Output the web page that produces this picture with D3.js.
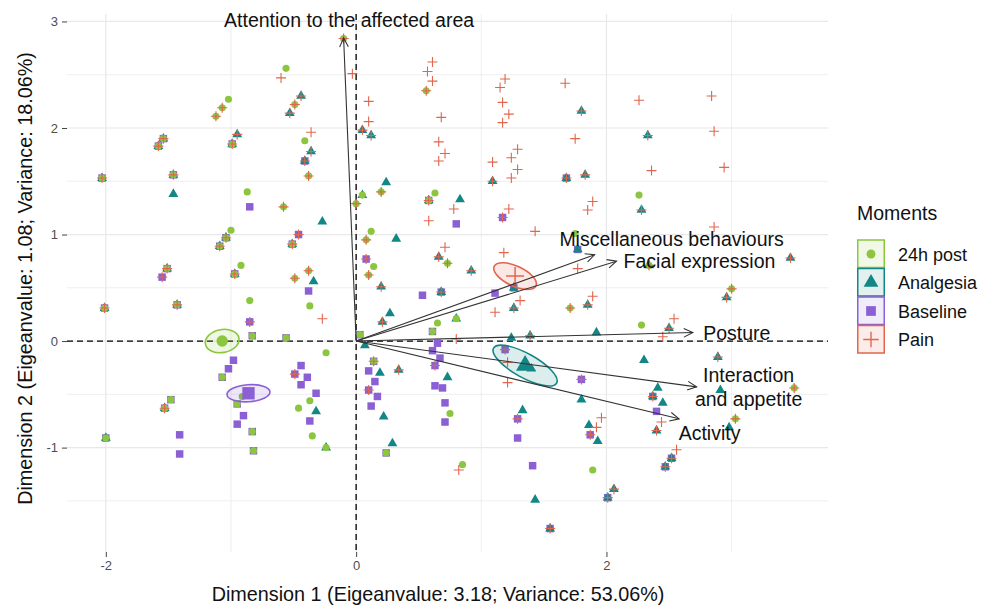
<!DOCTYPE html>
<html><head><meta charset="utf-8">
<script src="https://cdn.jsdelivr.net/npm/d3@7"></script>
<style>
body{margin:0;background:#fff;}
text{font-family:"Liberation Sans",Arial,sans-serif;}
</style>
</head><body>
<svg id="chart" width="990" height="608"></svg>
<script>
// ---------------- DATA ----------------
const groups = ["24h post", "Analgesia", "Baseline", "Pain"];
const groupColors = ["#8cc63f", "#138785", "#8a60d4", "#e2654d"];
const xTicks = [-2, 0, 2];
const yTicks = [-1, 0, 1, 2, 3];
const xTitle = "Dimension 1 (Eigeanvalue: 3.18; Variance: 53.06%)";
const yTitle = "Dimension 2 (Eigeanvalue: 1.08; Variance: 18.06%)";
const legendTitle = "Moments";

const post24Points = [
[-2.03,1.53],[-1.58,1.83],[-1.54,1.90],[-1.46,1.56],[-1.12,2.11],[-1.07,2.19],[-1.02,2.27],[-0.99,1.85],
[-0.87,1.40],[-0.58,1.26],[-0.56,2.56],[-0.49,2.22],[-0.41,1.88],[-0.38,1.55],[-0.51,0.91],[-1.00,1.04],
[-1.04,0.97],[-1.09,0.89],[-1.51,0.68],[-0.92,0.71],[-0.97,0.63],[-0.38,0.66],[-0.49,0.59],[-0.85,0.38],
[-0.10,2.84],[-2.01,0.31],[-1.43,0.34],[-0.37,0.33],[-0.83,0.05],[-0.56,0.03],[-0.24,-0.11],[-1.07,-0.34],
[-0.91,-0.52],[-0.37,-0.56],[-0.46,-0.63],[-0.35,-0.89],[-0.24,-1.00],[-1.48,-0.55],[-1.53,-0.63],[-0.95,-0.59],
[-0.83,-0.85],[-0.82,-1.03],[-2.00,-0.91],[0.05,1.37],[0.20,1.40],[0.00,1.29],[0.12,1.03],[0.08,0.95],
[0.14,0.70],[0.10,0.62],[0.56,2.35],[0.63,1.39],[0.58,1.32],[0.73,0.73],[1.75,1.01],[1.71,0.31],
[2.26,1.37],[2.34,0.71],[3.00,0.49],[0.03,0.06],[0.14,-0.19],[0.24,-1.05],[0.65,0.17],[0.80,0.21],
[0.61,0.09],[0.75,-0.68],[0.85,-1.16],[1.89,-1.21],[2.28,0.15],[3.50,-0.44],[3.03,-0.73]
];
const analgesiaPoints = [
[-2.03,1.53],[-1.58,1.83],[-1.54,1.90],[-1.46,1.56],[-1.46,1.38],[-0.99,1.85],[-0.95,1.94],[-0.53,2.14],
[-0.44,2.30],[-0.36,1.78],[-0.41,1.69],[-0.27,1.12],[-0.51,0.91],[-1.04,0.97],[-1.09,0.89],[-1.51,0.68],
[-0.97,0.63],[-0.34,0.56],[-2.01,0.31],[-1.43,0.34],[-0.32,-0.66],[-0.24,-1.00],[-1.53,-0.63],[-2.00,-0.91],
[0.05,1.98],[0.12,1.93],[0.24,1.49],[0.05,1.37],[0.32,0.96],[0.20,0.51],[0.58,1.32],[0.83,1.33],
[0.66,0.79],[0.92,0.66],[0.68,0.46],[1.09,1.50],[1.26,0.50],[1.80,2.16],[1.68,1.53],[1.83,1.56],
[1.77,0.86],[1.85,0.34],[2.33,1.93],[2.28,1.23],[2.34,0.71],[2.96,0.41],[3.47,0.78],[0.07,-0.04],
[0.21,0.18],[0.27,0.26],[0.19,-0.30],[0.22,-0.71],[0.29,-0.96],[0.34,-0.27],[0.80,0.21],[0.73,-0.34],
[1.26,0.31],[1.24,0.03],[1.39,0.05],[1.40,-0.26],[1.33,-0.65],[1.43,-1.49],[1.55,-1.76],[1.92,0.08],
[1.80,-0.55],[1.86,-0.79],[1.93,-0.94],[2.01,-1.47],[2.06,-1.39],[2.30,-0.18],[2.41,-0.44],[2.37,-0.52],
[2.45,-0.58],[2.40,-0.84],[2.50,0.12],[2.89,-0.15],[2.91,-0.46],[2.98,-0.81],[2.52,-1.10],[2.47,-1.18]
];
const baselinePoints = [
[-2.03,1.53],[-1.58,1.83],[-1.54,1.90],[-1.46,1.56],[-0.99,1.85],[-0.85,1.26],[-0.41,1.69],[-0.46,1.00],
[-0.51,0.91],[-1.04,0.97],[-1.09,0.89],[-1.51,0.68],[-1.55,0.60],[-0.97,0.63],[-0.38,0.47],[-2.01,0.31],
[-1.43,0.34],[-0.85,0.18],[-0.83,0.05],[-0.56,0.03],[-0.98,-0.18],[-1.02,-0.26],[-1.07,-0.34],[-0.49,-0.31],
[-0.44,-0.23],[-0.39,-0.34],[-0.44,-0.41],[-0.32,-0.49],[-0.37,-0.75],[-1.48,-0.55],[-1.53,-0.63],[-0.95,-0.59],
[-0.90,-0.70],[-0.95,-0.78],[-0.83,-0.85],[-0.82,-1.03],[-1.41,-0.88],[-1.41,-1.06],[-2.00,-0.91],[0.08,0.77],
[0.58,1.32],[0.80,1.10],[0.68,0.46],[0.53,0.43],[1.17,1.16],[1.26,0.50],[1.11,0.45],[1.68,1.53],
[1.77,0.86],[0.03,0.06],[0.14,-0.19],[0.10,-0.28],[0.15,-0.38],[0.10,-0.46],[0.17,-0.52],[0.12,-0.61],
[0.24,-1.05],[0.61,0.09],[0.65,-0.02],[0.61,-0.09],[0.67,-0.16],[0.63,-0.23],[0.63,-0.42],[0.69,-0.44],
[0.71,-0.58],[0.71,-0.76],[1.19,-0.08],[1.29,-0.73],[1.29,-0.91],[1.41,-1.17],[1.55,-1.76],[1.80,-0.36],
[1.87,-0.88],[2.01,-1.47],[2.37,-0.52],[2.40,-0.66],[2.52,-1.10],[2.47,-1.18]
];
const painPoints = [
[-2.03,1.53],[-1.58,1.83],[-1.54,1.90],[-1.46,1.56],[-1.12,2.11],[-1.07,2.19],[-0.99,1.85],[-0.95,1.94],
[-0.58,1.26],[-0.60,2.47],[-0.53,2.14],[-0.49,2.22],[-0.44,2.30],[-0.36,1.96],[-0.36,1.78],[-0.41,1.69],
[-0.38,1.55],[-0.46,1.00],[-0.51,0.91],[-1.04,0.97],[-1.09,0.89],[-1.51,0.68],[-1.55,0.60],[-0.97,0.63],
[-0.38,0.66],[-0.49,0.59],[-0.10,2.84],[-0.03,2.51],[-2.01,0.31],[-1.43,0.34],[-0.85,0.18],[-0.27,0.21],
[-0.49,-0.31],[-1.53,-0.63],[0.10,2.25],[0.10,2.06],[0.05,1.98],[0.12,1.93],[0.20,1.40],[0.00,1.29],
[0.08,0.95],[0.08,0.77],[0.10,0.62],[0.20,0.51],[0.61,2.62],[0.57,2.53],[0.61,2.44],[0.56,2.35],
[0.68,2.10],[0.66,1.87],[0.71,1.76],[0.66,1.69],[0.58,1.32],[0.58,1.13],[0.78,1.24],[0.71,0.88],
[0.66,0.79],[0.73,0.73],[0.92,0.66],[0.68,0.46],[1.19,2.46],[1.15,2.38],[1.17,2.24],[1.22,2.13],
[1.17,2.05],[1.29,1.80],[1.24,1.72],[1.09,1.68],[1.29,1.61],[1.24,1.53],[1.09,1.50],[1.22,1.24],
[1.17,1.16],[1.43,1.03],[1.18,0.83],[1.67,2.42],[1.80,2.16],[1.75,1.90],[1.68,1.53],[1.83,1.56],
[1.89,1.31],[1.85,1.23],[1.77,0.68],[1.89,0.42],[1.71,0.31],[1.85,0.34],[2.26,2.26],[2.33,1.93],
[2.36,1.60],[2.28,1.23],[2.34,0.71],[2.54,0.21],[2.84,2.30],[2.86,1.97],[2.94,1.63],[2.86,1.07],
[3.00,0.49],[2.96,0.41],[3.47,0.78],[0.21,0.18],[0.14,-0.19],[0.10,-0.46],[0.34,-0.27],[0.80,0.02],
[0.63,-0.23],[0.82,-1.21],[1.11,0.27],[1.26,0.31],[1.31,0.38],[1.39,0.05],[1.19,-0.08],[1.21,-0.20],
[1.21,-0.39],[1.29,-0.73],[1.55,-1.76],[1.80,-0.36],[1.87,-0.88],[1.96,-0.72],[1.92,-0.81],[2.01,-1.47],
[2.06,-1.39],[2.37,-0.52],[2.44,-0.76],[2.40,-0.84],[2.50,0.12],[2.45,0.04],[2.89,-0.15],[3.50,-0.44],
[3.03,-0.73],[2.56,-1.02],[2.52,-1.10],[2.47,-1.18]
];

// group means (x, y)
const groupMeans = [[-1.07, 0.00], [1.35, -0.23], [-0.86, -0.49], [1.27, 0.61]];
// confidence ellipse: semi-axis along x (dim1 units), semi-axis along y (dim2 units), tilt (deg)
const ellipseAxes = [[0.136, 0.108, -10], [0.288, 0.113, 29], [0.172, 0.080, -4], [0.184, 0.094, 25]];

// variable arrows
const variableNames = ["Attention to the affected area", "Miscellaneous behaviours", "Facial expression",
                       "Posture", "Interaction\nand appetite", "Activity"];
const variableX = [-0.10, 1.905, 2.08, 2.69, 2.72, 2.58];
const variableY = [2.845, 0.81, 0.75, 0.08, -0.43, -0.73];

// ---------------- LAYOUT ----------------
const svg = d3.select("#chart");
const P = {left: 67, right: 828, top: 14, bottom: 552};
const x = d3.scaleLinear().domain([-2.31, 3.77]).range([P.left, P.right]);
const y = d3.scaleLinear().domain([-1.98, 3.07]).range([P.bottom, P.top]);

// grid
const grid = svg.append("g");
const xMinor = [-1, 1, 3];
const yMinor = [-1.5, -0.5, 0.5, 1.5, 2.5];
grid.selectAll(".gxm").data(xMinor).join("line")
  .attr("x1", d => x(d)).attr("x2", d => x(d)).attr("y1", P.top).attr("y2", P.bottom)
  .attr("stroke", "#ececec").attr("stroke-width", 0.9);
grid.selectAll(".gym").data(yMinor).join("line")
  .attr("y1", d => y(d)).attr("y2", d => y(d)).attr("x1", P.left).attr("x2", P.right)
  .attr("stroke", "#ececec").attr("stroke-width", 0.9);
grid.selectAll(".gx").data(xTicks).join("line")
  .attr("x1", d => x(d)).attr("x2", d => x(d)).attr("y1", P.top).attr("y2", P.bottom)
  .attr("stroke", "#e8e8e8").attr("stroke-width", 1.2);
grid.selectAll(".gy").data(yTicks).join("line")
  .attr("y1", d => y(d)).attr("y2", d => y(d)).attr("x1", P.left).attr("x2", P.right)
  .attr("stroke", "#e8e8e8").attr("stroke-width", 1.2);

// axes
const fmt = d => String(d);
const gx = svg.append("g").attr("transform", `translate(0,${P.bottom})`)
  .call(d3.axisBottom(x).tickValues(xTicks).tickFormat(fmt).tickSize(5).tickPadding(4));
const gy = svg.append("g").attr("transform", `translate(${P.left},0)`)
  .call(d3.axisLeft(y).tickValues(yTicks).tickFormat(fmt).tickSize(5).tickPadding(4));
[gx, gy].forEach(g => {
  g.select(".domain").remove();
  g.selectAll(".tick line").attr("stroke", "#444").attr("stroke-width", 1);
  g.selectAll(".tick text").attr("fill", "#4d4d4d").style("font-size", "13px")
    .style("font-family", "Liberation Sans, Arial, sans-serif");
});

// dashed reference lines
svg.append("line").attr("x1", P.left).attr("x2", P.right).attr("y1", y(0)).attr("y2", y(0))
  .attr("stroke", "#000").attr("stroke-width", 1.3).attr("stroke-dasharray", "6,4");
svg.append("line").attr("x1", x(0)).attr("x2", x(0)).attr("y1", P.top).attr("y2", P.bottom)
  .attr("stroke", "#000").attr("stroke-width", 1.3).attr("stroke-dasharray", "6,4");

// symbols
function symbolPath(gi, scale) {
  if (gi === 3) { const h = 5 * scale; return `M${-h},0H${h}M0,${-h}V${h}`; }
  const types = [d3.symbolCircle, d3.symbolTriangle, d3.symbolSquare];
  const sizes = [40, 42, 56];
  return d3.symbol().type(types[gi]).size(sizes[gi] * scale * scale)();
}
function drawSymbol(g, gi, cx, cy, scale) {
  const p = g.append("path").attr("d", symbolPath(gi, scale))
    .attr("transform", `translate(${cx},${cy})`);
  if (gi === 3) p.attr("fill", "none").attr("stroke", groupColors[gi]).attr("stroke-width", 1.1 * Math.sqrt(scale));
  else p.attr("fill", groupColors[gi]);
  return p;
}
const allPoints = [post24Points, analgesiaPoints, baselinePoints, painPoints];
const drawOrder = [2, 1, 0, 3];
const pts = svg.append("g");
drawOrder.forEach(gi => {
  allPoints[gi].forEach(d => drawSymbol(pts, gi, x(d[0]), y(d[1]), 1));
});

// ellipses and means
const ell = svg.append("g");
groupMeans.forEach((m, gi) => {
  const [a, b, ang] = ellipseAxes[gi];
  const cx = x(m[0]), cy = y(m[1]);
  ell.append("ellipse").attr("cx", 0).attr("cy", 0)
    .attr("rx", x(a) - x(0)).attr("ry", y(0) - y(b))
    .attr("transform", `translate(${cx},${cy}) rotate(${ang})`)
    .attr("fill", groupColors[gi]).attr("fill-opacity", 0.15)
    .attr("stroke", groupColors[gi]).attr("stroke-width", 1.6);
});
const meanScale = [1.6, 1.85, 1.65, 1.8];
groupMeans.forEach((m, gi) => drawSymbol(ell, gi, x(m[0]), y(m[1]), meanScale[gi]));

// arrows
const arr = svg.append("g");
const labelOffsets = [[5.5, -17.5], [77, -16], [83, 0], [44, 0], [52, -12], [30.5, 14]];
variableNames.forEach((name, i) => {
  const x0 = x(0), y0 = y(0), x1 = x(variableX[i]), y1 = y(variableY[i]);
  arr.append("line").attr("x1", x0).attr("y1", y0).attr("x2", x1).attr("y2", y1)
    .attr("stroke", "#333").attr("stroke-width", 1.1);
  const th = Math.atan2(y1 - y0, x1 - x0), L = 10, w = 0.45;
  arr.append("path")
    .attr("d", `M${x1 - L * Math.cos(th - w)},${y1 - L * Math.sin(th - w)}L${x1},${y1}L${x1 - L * Math.cos(th + w)},${y1 - L * Math.sin(th + w)}`)
    .attr("fill", "none").attr("stroke", "#333").attr("stroke-width", 1.1);
  const lines = name.split("\n");
  const [ox, oy] = labelOffsets[i];
  lines.forEach((ln, k) => {
    const dy = lines.length > 1 ? (k === 0 ? 0 : 24) : 0;
    arr.append("text").attr("x", x1 + ox).attr("y", y1 + oy + dy)
      .attr("text-anchor", "middle").attr("dominant-baseline", "central")
      .style("font-size", "19.5px").attr("fill", "#111").text(ln);
  });
});

// axis titles
svg.append("text").attr("x", 438).attr("y", 594)
  .attr("text-anchor", "middle").attr("dominant-baseline", "central")
  .style("font-size", "19.8px").attr("fill", "#111").text(xTitle);
svg.append("text").attr("transform", "translate(25,278.5) rotate(-90)")
  .attr("text-anchor", "middle").attr("dominant-baseline", "central")
  .style("font-size", "19.8px").attr("fill", "#111").text(yTitle);

// legend
const lg = svg.append("g").attr("transform", "translate(857,0)");
lg.append("text").attr("x", 0).attr("y", 213).attr("dominant-baseline", "central")
  .style("font-size", "19.5px").attr("fill", "#111").text(legendTitle);
const legScale = [1.25, 1.5, 1.3, 1.55];
groups.forEach((gname, gi) => {
  const top = 240 + gi * 28.5;
  lg.append("rect").attr("x", 0.75).attr("y", top).attr("width", 26.5).attr("height", 27.5)
    .attr("fill", groupColors[gi]).attr("fill-opacity", 0.12)
    .attr("stroke", groupColors[gi]).attr("stroke-width", 1.5);
  drawSymbol(lg, gi, 14, top + 14, legScale[gi]);
  lg.append("text").attr("x", 41).attr("y", top + 14.5).attr("dominant-baseline", "central")
    .style("font-size", "18px").attr("fill", "#111").text(gname);
});
</script>
</body></html>
